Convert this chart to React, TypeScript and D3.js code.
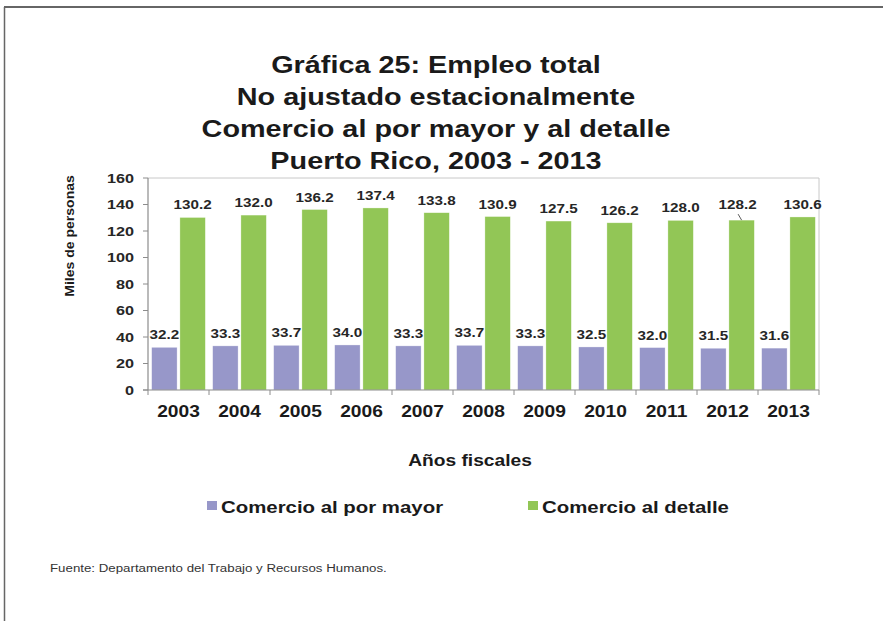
import React from "react";
import * as d3 from "d3";

const years = ["2003", "2004", "2005", "2006", "2007", "2008", "2009", "2010", "2011", "2012", "2013"];
const mayor = [32.2, 33.3, 33.7, 34.0, 33.3, 33.7, 33.3, 32.5, 32.0, 31.5, 31.6];
const detalle = [130.2, 132.0, 136.2, 137.4, 133.8, 130.9, 127.5, 126.2, 128.0, 128.2, 130.6];
const seriesNames = ["Comercio al por mayor", "Comercio al detalle"];
const seriesColors = ["#9797C9", "#92C656"];
const yTicks = [0, 20, 40, 60, 80, 100, 120, 140, 160];
const titleLines = [
  "Gráfica 25: Empleo total",
  "No ajustado estacionalmente",
  "Comercio al por mayor y al detalle",
  "Puerto Rico, 2003 - 2013",
];

const W = 883;
const H = 621;
const plot = { left: 148, right: 819, top: 178, bottom: 390 };
const font = "'Liberation Sans', Arial, Helvetica, sans-serif";
const SX = 1.2;

type TProps = {
  x: number;
  y: number;
  size: number;
  anchor?: "start" | "middle" | "end";
  bold?: boolean;
  fill?: string;
  sx?: number;
  rotate?: number;
  dy?: string;
  children: React.ReactNode;
};

function T({ x, y, size, anchor = "start", bold = true, fill = "#1a1a1a", sx = SX, rotate = 0, dy, children }: TProps) {
  return (
    <text
      transform={`translate(${x},${y}) rotate(${rotate}) scale(${sx},1)`}
      textAnchor={anchor}
      fontSize={size}
      fontWeight={bold ? "bold" : "normal"}
      fill={fill}
      dy={dy}
    >
      {children}
    </text>
  );
}

export default function App() {
  const x0 = d3.scaleBand<string>().domain(years).range([plot.left, plot.right]).padding(0);
  const x1 = d3
    .scaleBand<number>()
    .domain([0, 1])
    .range([0, x0.bandwidth()])
    .paddingInner(0.1)
    .paddingOuter(0.13);
  const y = d3.scaleLinear().domain([0, 160]).range([plot.bottom, plot.top]);
  const data = [mayor, detalle];

  return (
    <svg
      width={W}
      height={H}
      style={{ position: "absolute", left: 0, top: 0, background: "#fff" }}
      fontFamily={font}
    >
      {/* page border */}
      <line x1={4.5} y1={7} x2={4.5} y2={H} stroke="#666" strokeWidth={1.5} />
      <line x1={4} y1={7} x2={W} y2={7} stroke="#666" strokeWidth={2} />

      {/* title */}
      {titleLines.map((t, i) => (
        <T key={i} x={436} y={73 + i * 32} size={24} anchor="middle">
          {t}
        </T>
      ))}

      {/* plot frame */}
      <line x1={plot.left} y1={plot.top} x2={plot.right} y2={plot.top} stroke="#c8c8c8" strokeWidth={1} />
      <line x1={plot.right} y1={plot.top} x2={plot.right} y2={plot.bottom} stroke="#c8c8c8" strokeWidth={1} />

      {/* bars */}
      {data.map((vals, si) =>
        vals.map((v, i) => {
          const bx = (x0(years[i]) as number) + (x1(si) as number);
          return (
            <rect
              key={`${si}-${i}`}
              x={bx}
              y={y(v)}
              width={x1.bandwidth()}
              height={plot.bottom - y(v)}
              fill={seriesColors[si]}
              stroke="#ffffff"
              strokeOpacity={0.5}
              strokeWidth={0.6}
            />
          );
        })
      )}

      {/* data labels */}
      {data.map((vals, si) =>
        vals.map((v, i) => {
          const cx = (x0(years[i]) as number) + (x1(si) as number) + x1.bandwidth() / 2;
          const shifted = si === 1 && years[i] === "2012";
          const lx = shifted ? cx - 4 : cx;
          const ly = shifted ? y(v) - 11 : y(v) - 8;
          return (
            <g key={`l-${si}-${i}`}>
              {shifted && (
                <line x1={cx - 3.5} y1={ly + 5} x2={cx} y2={y(v)} stroke="#333" strokeWidth={0.8} />
              )}
              <T x={lx} y={ly} size={13} anchor="middle" fill="#262626" sx={1.17}>
                {v.toFixed(1)}
              </T>
            </g>
          );
        })
      )}

      {/* y axis */}
      <line x1={plot.left} y1={plot.top} x2={plot.left} y2={plot.bottom} stroke="#8c8c8c" strokeWidth={1.2} />
      {yTicks.map((t) => (
        <g key={t}>
          <line x1={plot.left - 5} y1={y(t)} x2={plot.left} y2={y(t)} stroke="#8c8c8c" strokeWidth={1} />
          <T x={plot.left - 14} y={y(t)} dy="0.35em" size={13.5} anchor="end" fill="#262626">
            {t}
          </T>
        </g>
      ))}

      {/* x axis */}
      <line x1={plot.left - 5} y1={plot.bottom} x2={plot.right} y2={plot.bottom} stroke="#8c8c8c" strokeWidth={1.2} />
      {years.map((yr) => (
        <line
          key={`t-${yr}`}
          x1={x0(yr) as number}
          y1={plot.bottom}
          x2={x0(yr) as number}
          y2={plot.bottom + 5}
          stroke="#8c8c8c"
          strokeWidth={1}
        />
      ))}
      <line x1={plot.right} y1={plot.bottom} x2={plot.right} y2={plot.bottom + 5} stroke="#8c8c8c" strokeWidth={1} />
      {years.map((yr) => (
        <T key={`x-${yr}`} x={(x0(yr) as number) + x0.bandwidth() / 2} y={417} size={16} anchor="middle">
          {yr}
        </T>
      ))}

      {/* axis titles */}
      <T x={470} y={466} size={16} anchor="middle">
        Años fiscales
      </T>
      <T x={74} y={236} size={12} anchor="middle" rotate={-90} sx={1.17}>
        Miles de personas
      </T>

      {/* legend */}
      {seriesNames.map((n, i) => {
        const lx = i === 0 ? 207 : 528;
        return (
          <g key={n}>
            <rect x={lx} y={501} width={10} height={9} fill={seriesColors[i]} />
            <T x={lx + 14} y={513} size={17}>
              {n}
            </T>
          </g>
        );
      })}

      {/* footer */}
      <T x={50} y={572} size={11} bold={false} fill="#333" sx={1.21}>
        Fuente: Departamento del Trabajo y Recursos Humanos.
      </T>
    </svg>
  );
}
